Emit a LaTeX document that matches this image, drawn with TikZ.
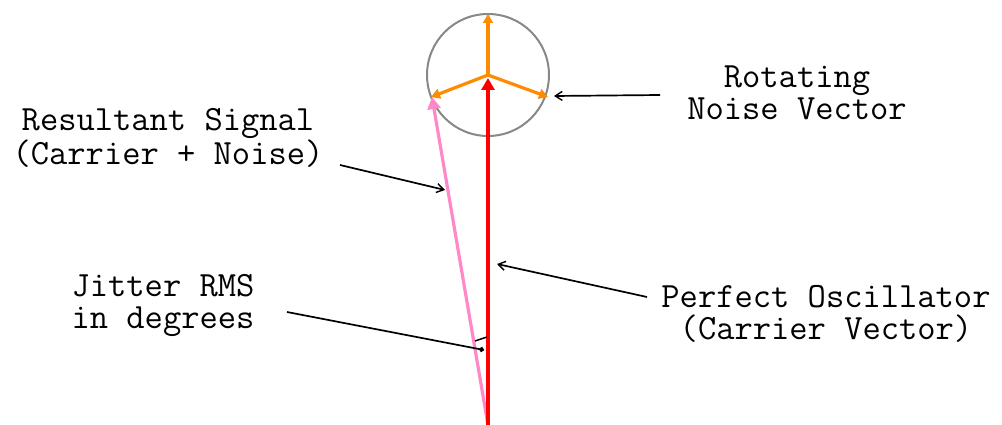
\documentclass[tikz,border=0pt]{standalone}
\usepackage{fontspec}
\usetikzlibrary{arrows.meta}
\definecolor{pinkv}{RGB}{255,136,200}
\definecolor{orangev}{RGB}{255,140,0}
\definecolor{grayc}{RGB}{136,136,136}
\tikzset{
  lbl/.style={font=\ttfamily\fontsize{35.5}{32}\selectfont, align=center, inner sep=0pt},
  pointer/.style={black, line width=1.7pt, -{Straight Barb[length=7pt,width=9pt,line width=1.4pt]}},
  vec/.style={line width=3.2pt, -{Triangle[length=12pt,width=13pt]}},
}
\begin{document}
\begin{tikzpicture}[x=1pt,y=-1pt]
\useasboundingbox (0,0) rectangle (1002,425);
\coordinate (O) at (488,425);
\coordinate (C) at (488,75);
\coordinate (T) at (488,14);
\coordinate (L) at (431,97);
\coordinate (R) at (548,97);
\coordinate (Ctip) at (488,78);
\coordinate (Ptip) at (432,97);
% circle
\draw[grayc, line width=2pt] (C) circle (61);
% noise vectors
\draw[vec, orangev, -{Triangle[length=9pt,width=10pt]}] (C) -- (T);
\draw[vec, orangev, -{Triangle[length=9pt,width=10pt]}] (C) -- (L);
\draw[vec, orangev, -{Triangle[length=9pt,width=10pt]}] (C) -- (R);
% carrier and resultant
\draw[vec, pinkv] (O) -- (Ptip);
\draw[vec, red] (O) -- (Ctip);
% angle mark
\coordinate (a1) at (475,341);
\coordinate (a2) at (487,337);
\draw[black, line width=1.5pt] (a1) -- (a2);
% labels
\node[lbl] (res) at (168,138) {Resultant Signal\\(Carrier + Noise)};
\node[lbl] (rot) at (797,93) {Rotating\\Noise Vector};
\node[lbl] (per) at (826,314) {Perfect Oscillator\\(Carrier Vector)};
\node[lbl] (jit) at (163,306) {Jitter RMS\\in degrees};
% pointers
\coordinate (resS) at (340,165);
\coordinate (resE) at (445,190);
\draw[pointer] (resS) -- (resE);
\coordinate (rotS) at (660,95);
\coordinate (rotE) at (554,96);
\draw[pointer] (rotS) -- (rotE);
\coordinate (perS) at (647,297);
\coordinate (perE) at (497,264);
\draw[pointer] (perS) -- (perE);
\coordinate (jitS) at (287,312);
\coordinate (jitE) at (484,350);
\draw[black, line width=1.7pt, -{Circle[length=5pt]}] (jitS) -- (jitE);
\end{tikzpicture}
\end{document}
